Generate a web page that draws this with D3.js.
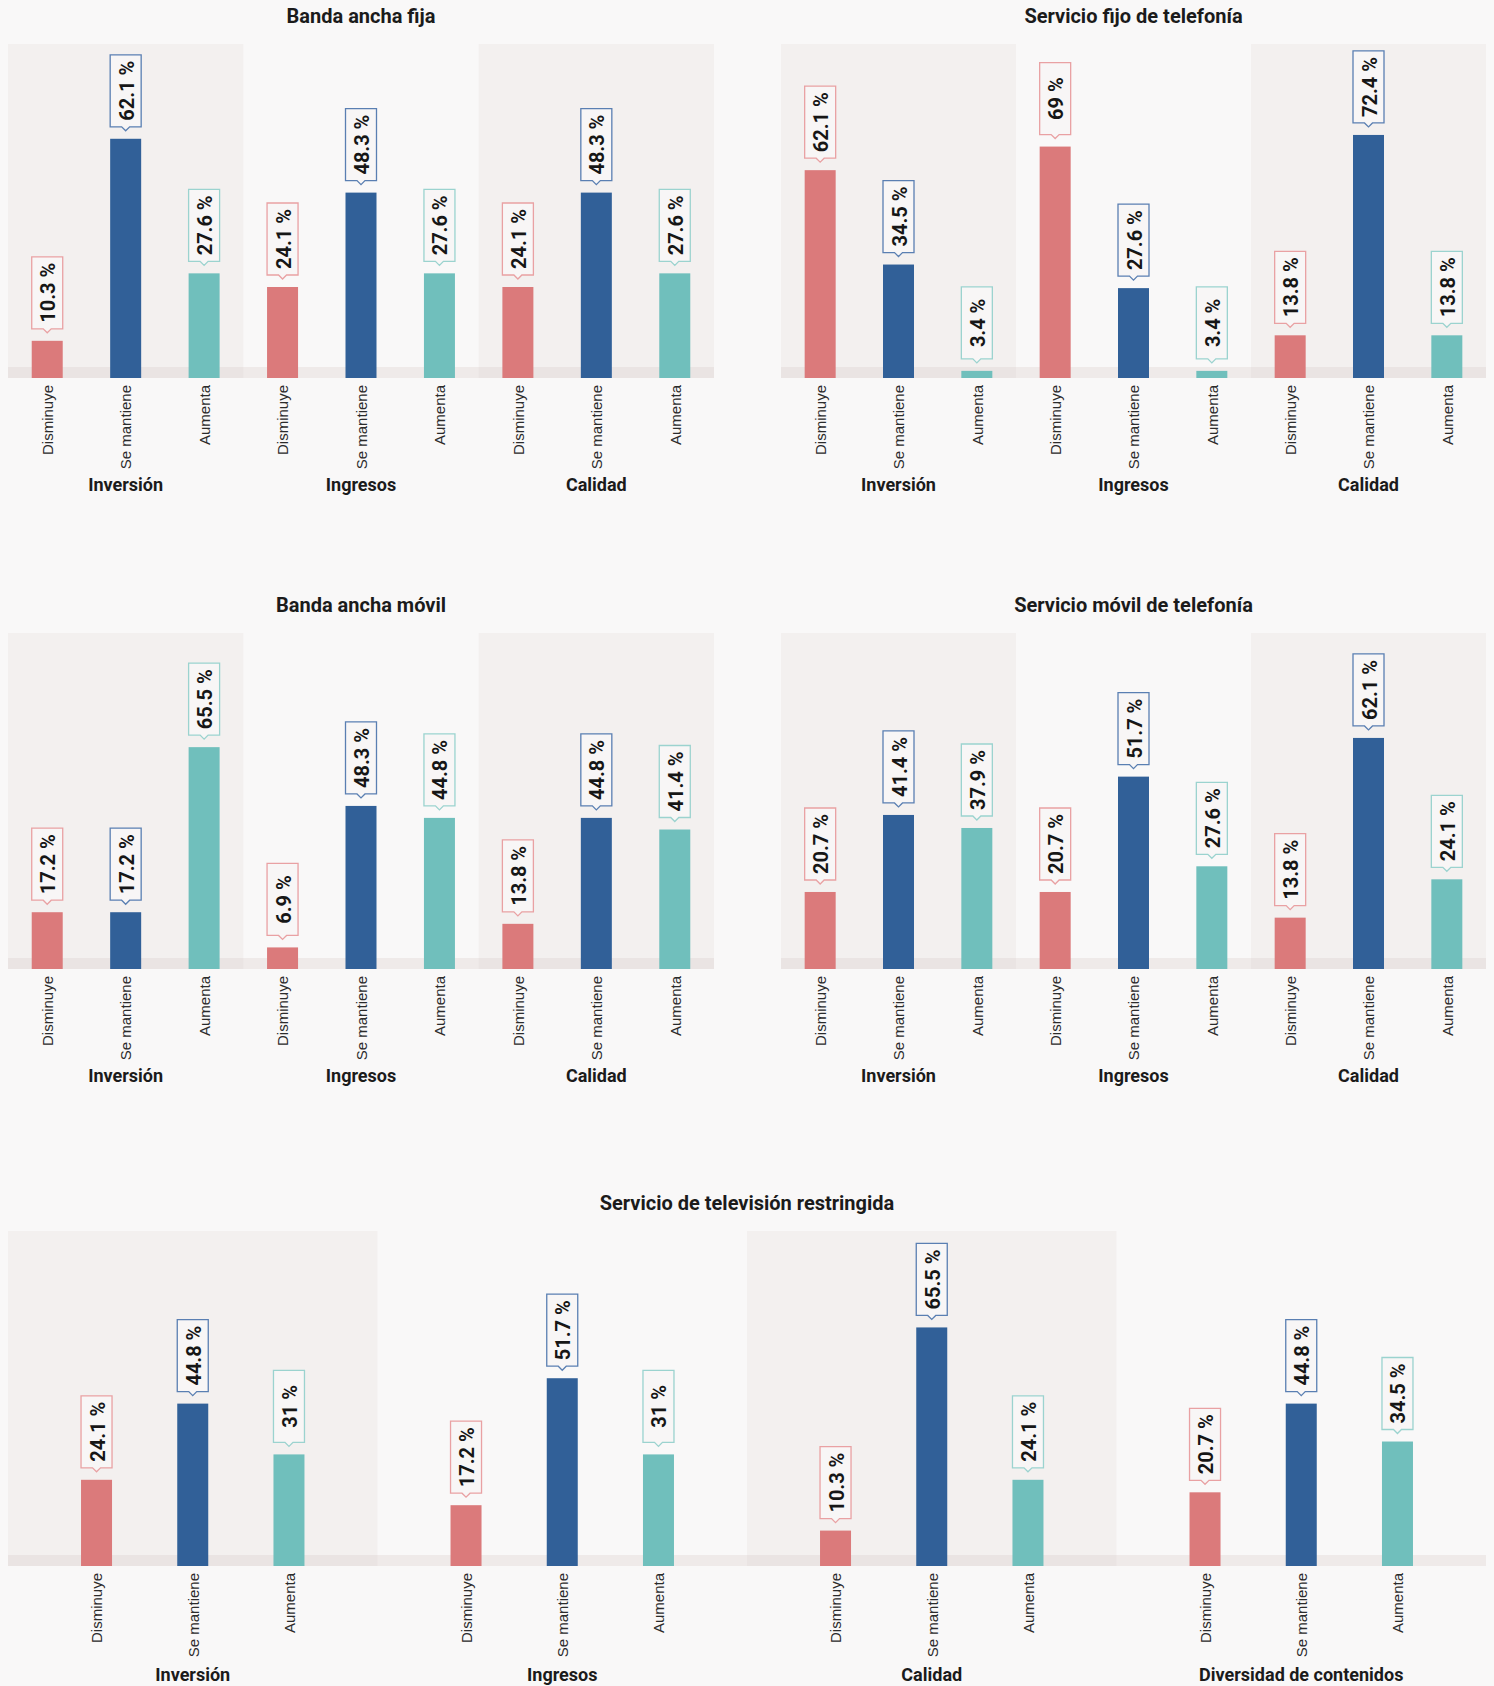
<!DOCTYPE html>
<html>
<head>
<meta charset="utf-8">
<script src="https://cdn.jsdelivr.net/npm/d3@7"></script>
<style>
	body { margin: 0; background: #f9f8f8; }
	svg { display: block; font-family: Roboto, 'Open Sans', sans-serif; }
	.chart-title { font-size: 20px; font-weight: 700; fill: #1b1b1b; }
	.group-title { font-size: 18px; font-weight: 700; fill: #1b1b1b; }
	.x.axis text { font-size: 15px; fill: #2b2b2b; }
	.value-label { font-size: 20px; font-weight: 700; fill: #161616; }
</style>
</head>
<body>
<svg id="chart" width="1494" height="1686"></svg>
<script>

// Answer categories (same in every chart)
var categories = ['Disminuye', 'Se mantiene', 'Aumenta'];
var barColors = ['#db7a7b', '#316098', '#70bfbc'];
var boxColors = ['#e9a1a3', '#5a7fb2', '#9bd3cf'];

// Group labels
var groupsThree = ['Inversión', 'Ingresos', 'Calidad'];
var groupsTv = ['Inversión', 'Ingresos', 'Calidad', 'Diversidad de contenidos'];

// Values (%) per group: [Disminuye, Se mantiene, Aumenta]
var bandaAnchaFija = [[10.3, 62.1, 27.6], [24.1, 48.3, 27.6], [24.1, 48.3, 27.6]];
var telefoniaFija = [[62.1, 34.5, 3.4], [69, 27.6, 3.4], [13.8, 72.4, 13.8]];
var bandaAnchaMovil = [[17.2, 17.2, 65.5], [6.9, 48.3, 44.8], [13.8, 44.8, 41.4]];
var telefoniaMovil = [[20.7, 41.4, 37.9], [20.7, 51.7, 27.6], [13.8, 62.1, 24.1]];
var television = [[24.1, 44.8, 31], [17.2, 51.7, 31], [10.3, 65.5, 24.1], [20.7, 44.8, 34.5]];

var svg = d3.select('#chart');

// Page background
svg.append('rect')
	.attr('width', 1494)
	.attr('height', 1686)
	.attr('fill', '#f9f8f8');

// Draw one small-multiple chart
function drawChart(opts) {

	var area = svg.append('g').attr('class', 'small-chart');

	// Scale for groups (Inversión, Ingresos...)
	var groupScale = d3.scaleBand()
		.domain(opts.groups)
		.range([opts.x0, opts.x1]);

	// Scale for categories inside one group
	var catScale = d3.scalePoint()
		.domain(categories)
		.range([0, groupScale.bandwidth()])
		.padding(opts.padding);

	// Value scale
	var yScale = d3.scaleLinear()
		.domain([0, opts.yMax])
		.range([opts.base + opts.off, opts.top]);

	var barWidth = 31;
	var boxHeight = 72;

	// Chart title
	area.append('text')
		.attr('class', 'chart-title')
		.attr('x', (opts.x0 + opts.x1) / 2)
		.attr('y', opts.top - 21)
		.attr('text-anchor', 'middle')
		.text(opts.title);

	// Alternate shaded group backgrounds
	area.selectAll('.group-bg')
		.data(opts.groups)
		.enter()
		.append('rect')
		.attr('class', 'group-bg')
		.attr('x', function(d) { return groupScale(d); })
		.attr('y', opts.top)
		.attr('width', groupScale.bandwidth())
		.attr('height', opts.base - opts.top)
		.attr('fill', function(d, i) { return i % 2 == 0 ? '#f3f0ef' : 'none'; });

	// Floor strip
	area.append('rect')
		.attr('x', opts.x0)
		.attr('y', opts.base - 11)
		.attr('width', opts.x1 - opts.x0)
		.attr('height', 11)
		.attr('fill', '#d6cbc8')
		.attr('opacity', 0.3);

	// One g per group
	var groups = area.selectAll('.group')
		.data(opts.groups)
		.enter()
		.append('g')
		.attr('class', 'group')
		.attr('transform', function(d) {
			return 'translate(' + groupScale(d) + ',0)';
		});

	// Bars
	groups.selectAll('.bar')
		.data(function(d, i) {
			return opts.values[i].map(function(v, j) {
				return {cat: categories[j], value: v, idx: j};
			});
		})
		.enter()
		.append('rect')
		.attr('class', 'bar')
		.attr('x', function(d) { return catScale(d.cat) - barWidth / 2; })
		.attr('y', function(d) { return yScale(d.value); })
		.attr('width', barWidth)
		.attr('height', function(d) { return opts.base - yScale(d.value); })
		.attr('fill', function(d) { return barColors[d.idx]; });

	// Callout boxes with value
	var boxes = groups.selectAll('.callout')
		.data(function(d, i) {
			return opts.values[i].map(function(v, j) {
				return {cat: categories[j], value: v, idx: j};
			});
		})
		.enter()
		.append('g')
		.attr('class', 'callout')
		.attr('transform', function(d) {
			return 'translate(' + catScale(d.cat) + ',' + (yScale(d.value) - 12) + ')';
		});

	boxes.append('path')
		.attr('d', function() {
			var w = barWidth / 2;
			return 'M' + (-w) + ',' + (-boxHeight) + 'H' + w + 'V0H4L0,4L-4,0H' + (-w) + 'Z';
		})
		.attr('fill', '#f8f6f6')
		.attr('stroke', function(d) { return boxColors[d.idx]; })
		.attr('stroke-width', 1.3);

	boxes.append('text')
		.attr('class', 'value-label')
		.attr('transform', 'translate(1,' + (-boxHeight / 2) + ')rotate(-90)')
		.attr('text-anchor', 'middle')
		.attr('dominant-baseline', 'central')
		.text(function(d) { return d.value + ' %'; });

	// Category axis for each group
	groups.append('g')
		.attr('class', 'x axis')
		.attr('transform', 'translate(0,' + opts.base + ')')
		.call(d3.axisBottom(catScale).tickSize(0).tickPadding(0))
		.call(function(g) { g.select('.domain').remove(); })
		.selectAll('text')
		.attr('font-family', null)
		.attr('font-size', null)
		.attr('fill', null)
		.attr('y', 0)
		.attr('x', -7)
		.attr('dy', '0.35em')
		.attr('transform', 'rotate(-90)')
		.style('text-anchor', 'end');

	// Group titles
	groups.append('text')
		.attr('class', 'group-title')
		.attr('x', groupScale.bandwidth() / 2)
		.attr('y', opts.base + opts.titleGap)
		.attr('text-anchor', 'middle')
		.text(function(d) { return d; });
}

drawChart({title: 'Banda ancha fija', groups: groupsThree, values: bandaAnchaFija,
	x0: 8, x1: 714, top: 44, base: 378, yMax: 86.4, off: 3, padding: 0.5, titleGap: 113});

drawChart({title: 'Servicio fijo de telefonía', groups: groupsThree, values: telefoniaFija,
	x0: 781, x1: 1486, top: 44, base: 378, yMax: 99, off: 4.5, padding: 0.5, titleGap: 113});

drawChart({title: 'Banda ancha móvil', groups: groupsThree, values: bandaAnchaMovil,
	x0: 8, x1: 714, top: 633, base: 969, yMax: 98.9, off: 2, padding: 0.5, titleGap: 113});

drawChart({title: 'Servicio móvil de telefonía', groups: groupsThree, values: telefoniaMovil,
	x0: 781, x1: 1486, top: 633, base: 969, yMax: 90.3, off: 0, padding: 0.5, titleGap: 113});

drawChart({title: 'Servicio de televisión restringida', groups: groupsTv, values: television,
	x0: 8, x1: 1486, top: 1231, base: 1566, yMax: 91.7, off: 2.5, padding: 0.92, titleGap: 115});

</script>
</body>
</html>
